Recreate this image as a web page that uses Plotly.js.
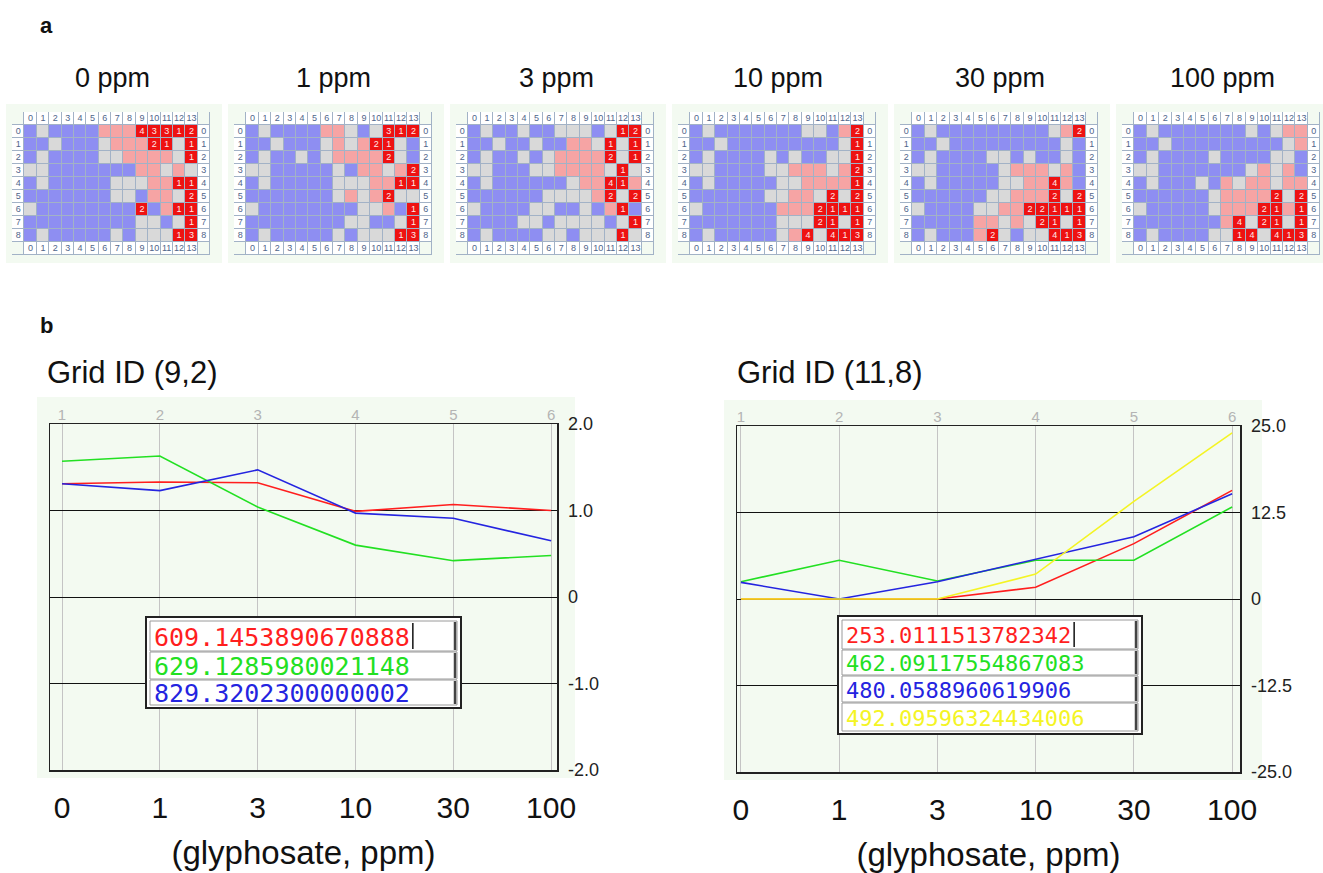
<!DOCTYPE html>
<html><head><meta charset="utf-8">
<script src="https://cdn.plot.ly/plotly-3.0.1.min.js"></script>
<style>html,body{margin:0;padding:0;background:#fff}#chart{width:1323px;height:873px}</style>
</head><body><div id="chart"></div>
<script>
// ---------- DATA ----------
const doses = ['0 ppm','1 ppm','3 ppm','10 ppm','30 ppm','100 ppm'];
// B = blue, G = grey, P = pink, digit = red cell with its count
const grid0ppm = ["BGBBBBPPP43312","BBGBBBGPPP21G1","BGBBBBGGPPPPG1","GGBBBBBBBPPGPG","BGBBBBBGGGPP11","BBBBBBBGGBPPG2","GBBBBBBBB2BP11","BBBBBBBBBGGBG1","BGBBBBBGBGGG13"];
const grid1ppm = ["BGBBBBPPGBG312","BBGBBBGPGP21GB","BGBBGBGPPPP2GB","GGBBBBBGBPPGP2","BGBBBBBGGGPP11","BBBBBBBGPGP2GG","GBBBBBBBBGGPB1","BBBBBBBBGGBBG1","BGBBBBBGBGGG13"];
const grid3ppm = ["BGBBGBBGGGBG12","BBGBBGBBPPG1G1","BGBBGBGPPPP2G1","GGBBBGGPPPPG1G","BGBBBBBBGPP41P","BBBBBBGGGGP2G2","GBBBBGGBBGBP1B","BBBBGGBGGGGBG1","BGBBBBGGBGGG1G"];
const grid10ppm = ["BGBBBBBBBGGBP2","BBGBBBBBBBBBG1","BGBBBBGBGBBGG1","GGBBBBGGPPPGP2","BGBBBBBGGPPPP1","BBBBBBGGPPG2G2","GBBBBBBPPP2111","BBBBBBBGGG21G1","BGBBBBBGP4G413"];
const grid30ppm = ["BGBBBBBBBBBGP2","BBGBBBBBBBBBGB","BGBBBBGGBGBBGB","GGBBBBBGPPPGPB","BGBBBBBGGPP4PB","BBBBBBGGPPP2G2","GBBBBGGPP22111","BBBBBPPGPG21G1","BGBBBP2GBGG413"];
const grid100ppm = ["BGBBBBBBBGBGPP","BBGBBBBBBBBBGP","BGBBBBGBBBBGGB","GGBBBBBBBGPGPB","BGBBBGBPGPPGPP","BBBBBBGPPPP2G2","GBBBBBGPPP21P1","BBBBBBBP4G21G1","BGBBBBGG14G413"];
const grids = [grid0ppm, grid1ppm, grid3ppm, grid10ppm, grid30ppm, grid100ppm];
const colLabels = ['0','1','2','3','4','5','6','7','8','9','10','11','12','13'];
const rowLabels = ['0','1','2','3','4','5','6','7','8'];

const chartTitles = ['Grid ID (9,2)', 'Grid ID (11,8)'];
const pointIdx = [1, 2, 3, 4, 5, 6];
const doseLabels = ['0', '1', '3', '10', '30', '100'];
const xTitle = '(glyphosate, ppm)';

const g92_red   = [1.31, 1.33, 1.32, 0.99, 1.07, 1.00];
const g92_green = [1.57, 1.63, 1.04, 0.60, 0.42, 0.48];
const g92_blue  = [1.31, 1.23, 1.47, 0.97, 0.91, 0.65];
const g92_ids   = ['609.1453890670888', '629.1285980021148', '829.3202300000002'];

const g118_red    = [0.0, 0.0, 0.0, 1.7, 8.0, 15.7];
const g118_green  = [2.5, 5.6, 2.6, 5.6, 5.6, 13.3];
const g118_blue   = [2.4, 0.0, 2.5, 5.8, 9.0, 15.2];
const g118_yellow = [0.0, 0.0, 0.0, 3.6, 14.1, 24.0];
const g118_ids    = ['253.0111513782342', '462.09117554867083', '480.0588960619906', '492.09596324434006'];

const leftTicks = [-2, -1, 0, 1, 2];
const leftTickText = ['-2.0', '-1.0', '0', '1.0', '2.0'];
const rightTicks = [-25, -12.5, 0, 12.5, 25];
const rightTickText = ['-25.0', '-12.5', '0', '12.5', '25.0'];

// ---------- STYLE / GEOMETRY ----------
const W = 1323, H = 873;
const fx = x => x / W, fy = y => 1 - y / H;
const cellColors = ['#ffffff', '#8e8ef2', '#d9d9d9', '#f6a4a4', '#ee1212', '#f3faf1'];
const cs = [];
cellColors.forEach((c, i) => { cs.push([i / 6, c]); cs.push([(i + 1) / 6, c]); });
const codeOf = ch => ch === 'B' ? 1 : ch === 'G' ? 2 : ch === 'P' ? 3 : 4;
const lineCol = {red: '#ff1e1e', green: '#22e022', blue: '#2424e0', yellow: '#f4f424'};

const traces = [];
const shapes = [];
const annotations = [];
const layout = {
  width: W, height: H, margin: {l: 0, r: 0, t: 0, b: 0},
  paper_bgcolor: '#ffffff', plot_bgcolor: 'rgba(0,0,0,0)',
  showlegend: false, font: {family: 'Liberation Sans, Arial, sans-serif', color: '#111'},
  shapes: shapes, annotations: annotations
};

const gridTop = 112, gridBot = 255, gridW = 198;
grids.forEach((grid, g) => {
  const id = g === 0 ? '' : String(g + 1);
  const L = 12 + 222 * g;
  const z = [];
  for (let r = 0; r < 11; r++) {
    const row = [];
    for (let c = 0; c < 16; c++) {
      const edgeR = (r === 0 || r === 10), edgeC = (c === 0 || c === 15);
      if (edgeR && edgeC) row.push(5);
      else if (edgeR || edgeC) row.push(0);
      else row.push(codeOf(grid[r - 1][c - 1]));
    }
    z.push(row);
  }
  traces.push({type: 'heatmap', z: z, colorscale: cs, zmin: -0.5, zmax: 5.5, showscale: false,
    xgap: 1, ygap: 1, hoverinfo: 'skip', xaxis: 'x' + id, yaxis: 'y' + id});
  const xs = [], ys = [], ts = [], tc = [];
  colLabels.forEach((lab, c) => {
    xs.push(c + 1, c + 1); ys.push(0, 10); ts.push(lab, lab); tc.push('#50658a', '#50658a');
  });
  rowLabels.forEach((lab, r) => {
    xs.push(0, 15); ys.push(r + 1, r + 1); ts.push(lab, lab); tc.push('#50658a', '#50658a');
  });
  grid.forEach((rowStr, r) => {
    rowStr.split('').forEach((ch, c) => {
      if (/[0-9]/.test(ch)) { xs.push(c + 1); ys.push(r + 1); ts.push(ch); tc.push('#ffe8e8'); }
    });
  });
  traces.push({type: 'scatter', mode: 'text', x: xs, y: ys, text: ts,
    textfont: {size: 9, color: tc, family: 'Liberation Sans, Arial'}, hoverinfo: 'skip',
    xaxis: 'x' + id, yaxis: 'y' + id});
  layout['xaxis' + id] = {domain: [fx(L), fx(L + gridW)], range: [-0.5, 15.5], visible: false,
    fixedrange: true, anchor: 'y' + id};
  layout['yaxis' + id] = {domain: [fy(gridBot), fy(gridTop)], range: [10.5, -0.5], visible: false,
    fixedrange: true, anchor: 'x' + id};
  shapes.push({type: 'rect', xref: 'paper', yref: 'paper', x0: fx(L - 6), x1: fx(L + gridW + 12),
    y0: fy(263), y1: fy(104), fillcolor: '#f3faf1', line: {width: 0}, layer: 'below'});
  shapes.push({type: 'rect', xref: 'x' + id, yref: 'y' + id, x0: -0.5, x1: 15.5, y0: -0.5, y1: 10.5,
    fillcolor: '#a2b2c6', line: {width: 0}, layer: 'below'});
  annotations.push({xref: 'paper', yref: 'paper', x: fx(L + 100), y: fy(78), text: doses[g],
    showarrow: false, font: {size: 27, color: '#111'}, xanchor: 'center', yanchor: 'middle'});
});

annotations.push({xref: 'paper', yref: 'paper', x: fx(38), y: fy(25), text: '<b>a</b>', showarrow: false,
  font: {size: 22}, xanchor: 'left', yanchor: 'middle'});
annotations.push({xref: 'paper', yref: 'paper', x: fx(38), y: fy(325), text: '<b>b</b>', showarrow: false,
  font: {size: 22}, xanchor: 'left', yanchor: 'middle'});

// ---------- LINE CHARTS ----------
function lineChart(k, box, xr, yr, ticks, tickText, series, ids, legendBox, titleX, panel, idFont) {
  const xa = 'x' + (7 + k), ya = 'y' + (7 + k), xt = 'x' + (9 + k);
  series.forEach(s => traces.push({type: 'scatter', mode: 'lines', x: pointIdx, y: s.y,
    line: {color: s.c, width: 1.6}, hoverinfo: 'skip', xaxis: xa, yaxis: ya}));
  traces.push({type: 'scatter', mode: 'lines', x: pointIdx, y: pointIdx.map(() => null),
    hoverinfo: 'skip', xaxis: xt, yaxis: ya});
  layout['xaxis' + (7 + k)] = {domain: [fx(box[0]), fx(box[1])], range: xr, anchor: ya,
    tickmode: 'array', tickvals: pointIdx, ticktext: doseLabels, tickfont: {size: 30, color: '#111'},
    ticks: 'outside', ticklen: 10, tickcolor: 'rgba(0,0,0,0)',
    showgrid: true, gridcolor: '#c4c4c4', gridwidth: 1, zeroline: false,
    showline: true, mirror: true, linecolor: '#222', linewidth: 1.5,
    title: {text: xTitle, font: {size: 33, color: '#111'}, standoff: 18}, fixedrange: true};
  layout['xaxis' + (9 + k)] = {overlaying: xa, side: 'top', range: xr, anchor: ya,
    tickmode: 'array', tickvals: pointIdx, ticktext: pointIdx.map(String),
    tickfont: {size: 15, color: '#b4b4b4'}, ticks: '', showgrid: false, zeroline: false,
    showline: false, fixedrange: true};
  layout['yaxis' + (7 + k)] = {domain: [fy(box[3]), fy(box[2])], range: yr, anchor: xa, side: 'right',
    tickmode: 'array', tickvals: ticks, ticktext: tickText, tickfont: {size: 18, color: '#222'},
    ticks: 'outside', ticklen: 6, tickcolor: 'rgba(0,0,0,0)',
    showgrid: true, gridcolor: '#111', gridwidth: 1, zeroline: false,
    showline: true, mirror: true, linecolor: '#222', linewidth: 1.5, fixedrange: true};
  shapes.push({type: 'rect', xref: 'paper', yref: 'paper', x0: fx(panel[0]), x1: fx(panel[1]),
    y0: fy(panel[3]), y1: fy(panel[2]), fillcolor: '#f3faf1', line: {width: 0}, layer: 'below'});
  annotations.push({xref: 'paper', yref: 'paper', x: fx(titleX), y: fy(372), text: chartTitles[k],
    showarrow: false, font: {size: 31, color: '#111'}, xanchor: 'left', yanchor: 'middle'});
  // value box
  const [bx0, bx1, by0, rows] = legendBox;
  const by1 = rows[rows.length - 1][1] + 3;
  shapes.push({type: 'rect', xref: 'paper', yref: 'paper', x0: fx(bx0), x1: fx(bx1), y0: fy(by1), y1: fy(by0),
    fillcolor: '#ffffff', line: {color: '#222', width: 2}, layer: 'above'});
  rows.forEach((rw, i) => {
    shapes.push({type: 'rect', xref: 'paper', yref: 'paper', x0: fx(bx0 + 4), x1: fx(bx1 - 4),
      y0: fy(rw[1]), y1: fy(rw[0]), fillcolor: '#ffffff', line: {color: '#9a9a9a', width: 1}, layer: 'above'});
    shapes.push({type: 'line', xref: 'paper', yref: 'paper', x0: fx(bx1 - 6), x1: fx(bx1 - 6),
      y0: fy(rw[1] - 1), y1: fy(rw[0] + 1), line: {color: '#444', width: 2.5}, layer: 'above'});
    annotations.push({xref: 'paper', yref: 'paper', x: fx(bx0 + 6), y: fy((rw[0] + rw[1]) / 2 + 1),
      text: ids[i], showarrow: false, xanchor: 'left', yanchor: 'middle',
      font: {size: idFont, color: series[i].c, family: 'DejaVu Sans Mono, monospace'}});
  });
  const r0 = rows[0];
  const curX = bx0 + 6 + 2 + ids[0].length * idFont * 0.602 + 3;
  shapes.push({type: 'line', xref: 'paper', yref: 'paper', x0: fx(curX), x1: fx(curX),
    y0: fy(r0[1] - 2), y1: fy(r0[0] + 2), line: {color: '#111', width: 1.5}, layer: 'above'});
}

lineChart(0, [50, 557, 424, 770], [0.877, 6.06], [-2, 2], leftTicks, leftTickText,
  [{y: g92_red, c: lineCol.red}, {y: g92_green, c: lineCol.green}, {y: g92_blue, c: lineCol.blue}],
  g92_ids, [146, 461, 617, [[621, 651], [652, 679], [680, 705]]], 45, [37, 575, 397, 778], 25);

lineChart(1, [737, 1240, 426, 772], [0.96, 6.08], [-25, 25], rightTicks, rightTickText,
  [{y: g118_red, c: lineCol.red}, {y: g118_green, c: lineCol.green}, {y: g118_blue, c: lineCol.blue}, {y: g118_yellow, c: lineCol.yellow}],
  g118_ids, [838, 1142, 616, [[620, 649], [650, 675], [676, 702], [703, 731]]], 735, [724, 1262, 400, 780], 22);

Plotly.newPlot('chart', traces, layout, {displayModeBar: false, staticPlot: true});
</script>
</body></html>
